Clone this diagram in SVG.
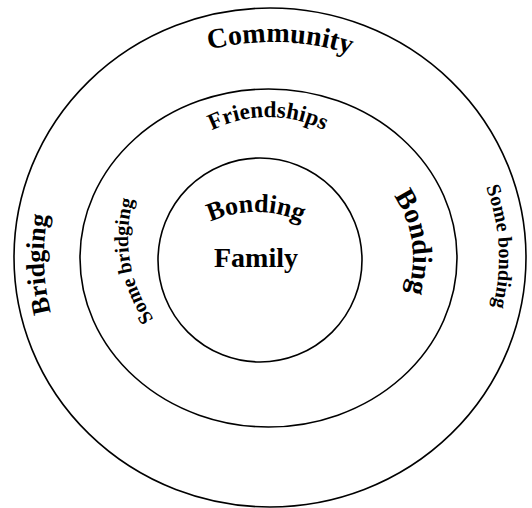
<svg xmlns="http://www.w3.org/2000/svg" xmlns:xlink="http://www.w3.org/1999/xlink" width="532" height="508" viewBox="0 0 532 508">
  <style>
    .ring { fill: none; stroke: #000; stroke-width: 1.6; }
    .lbl { font-family: "Liberation Serif", "Times New Roman", serif; font-weight: bold; fill: #000; }
  </style>
  <defs>
    <!-- baselines for the curved labels (all drawn clockwise, glyph tops facing outward) -->
    <path id="arc-community" d="M 111.2 97.7 A 260 260 0 0 1 445.3 108.2"/>
    <path id="arc-friendships" d="M 159.75 179.5 A 125 125 0 0 1 376.25 179.5"/>
    <path id="arc-bonding-inner" d="M 160.74 267 A 110 110 0 0 1 351.26 267"/>
    <path id="arc-bridging" d="M 163.2 456.2 A 226 226 0 0 1 150.9 64.9"/>
    <path id="arc-some-bridging" d="M 243 375.7 A 140 140 0 0 1 198.6 116.4"/>
    <path id="arc-bonding-right" d="M 325.7 150.4 A 110 110 0 0 1 354.8 355"/>
    <path id="arc-some-bonding" d="M 418.9 98.4 A 199 199 0 0 1 436.5 402.8"/>
  </defs>
  <rect width="532" height="508" fill="#fff"/>

  <g id="community">
    <ellipse class="ring" cx="270" cy="257.5" rx="256" ry="249.5"/>
    <text class="lbl" font-size="28"><textPath xlink:href="#arc-community" href="#arc-community" startOffset="50%" text-anchor="middle">Community</textPath></text>
    <text class="lbl" font-size="26"><textPath xlink:href="#arc-bridging" href="#arc-bridging" startOffset="50%" text-anchor="middle">Bridging</textPath></text>
    <text class="lbl" font-size="20"><textPath xlink:href="#arc-some-bonding" href="#arc-some-bonding" startOffset="50%" text-anchor="middle">Some bonding</textPath></text>
  </g>

  <g id="friendships">
    <ellipse class="ring" cx="268.5" cy="258" rx="188.5" ry="169"/>
    <text class="lbl" font-size="23"><textPath xlink:href="#arc-friendships" href="#arc-friendships" startOffset="50%" text-anchor="middle">Friendships</textPath></text>
    <text class="lbl" font-size="20"><textPath xlink:href="#arc-some-bridging" href="#arc-some-bridging" startOffset="50%" text-anchor="middle">Some bridging</textPath></text>
    <text class="lbl" font-size="28"><textPath xlink:href="#arc-bonding-right" href="#arc-bonding-right" startOffset="50%" text-anchor="middle">Bonding</textPath></text>
  </g>

  <g id="family">
    <circle class="ring" cx="260" cy="260" r="102"/>
    <text class="lbl" font-size="26"><textPath xlink:href="#arc-bonding-inner" href="#arc-bonding-inner" startOffset="50%" text-anchor="middle">Bonding</textPath></text>
    <text class="lbl" font-size="28" x="256" y="267" text-anchor="middle">Family</text>
  </g>
</svg>
